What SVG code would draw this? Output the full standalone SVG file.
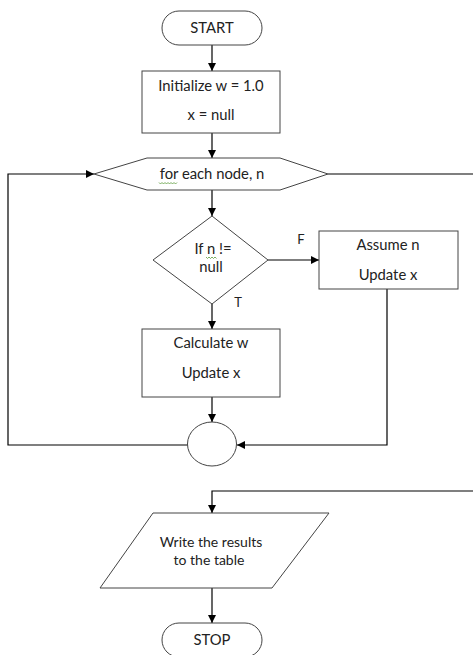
<svg xmlns="http://www.w3.org/2000/svg" width="473" height="655" viewBox="0 0 473 655">
  <defs>
    <marker id="arrow" markerWidth="8" markerHeight="8" refX="8" refY="4" orient="auto" markerUnits="userSpaceOnUse">
      <path d="M0,0 L8,4 L0,8 Z" fill="#000"/>
    </marker>
    <style>
      .shape { fill: #fff; stroke: #444; stroke-width: 1; }
      .conn { fill: none; stroke: #000; stroke-width: 1.2; marker-end: url(#arrow); }
      .line { fill: none; stroke: #000; stroke-width: 1.2; }
      .t { font-family: "Lato", "Open Sans", sans-serif; font-size: 14.8px; fill: #222; text-anchor: middle; }
      .lbl { font-family: "Lato", "Open Sans", sans-serif; font-size: 13px; fill: #222; text-anchor: middle; }
      .sm { font-family: "Lato", "Open Sans", sans-serif; font-size: 14px; fill: #222; text-anchor: middle; }
      .squig { fill: none; stroke: #5a9a3a; stroke-width: 0.8; }
    </style>
  </defs>
  <rect width="473" height="655" fill="#fff"/>

  <g id="connectors">
    <path class="conn" d="M212,45 V71"/>
    <path class="conn" d="M212,133 V158"/>
    <path class="conn" d="M212,190 V216"/>
    <path class="conn" d="M268,260 H319"/>
    <path class="conn" d="M212,304 V329"/>
    <path class="conn" d="M212,397 V422"/>
    <path class="conn" d="M387,289 V445 H237"/>
    <path class="conn" d="M188,445 H8 V174 H94"/>
    <path class="line" d="M328,174 H475"/>
    <path class="conn" d="M475,491 H212 V513"/>
    <path class="conn" d="M212,588 V623"/>
    <text class="lbl" x="301" y="244">F</text>
    <text class="lbl" x="238" y="307">T</text>
  </g>

  <g id="start">
    <rect class="shape" x="162" y="11" width="100" height="34" rx="17"/>
    <text class="t" x="212" y="33">START</text>
  </g>

  <g id="init">
    <rect class="shape" x="142" y="71" width="138" height="62"/>
    <text class="t" x="211" y="91">Initialize w = 1.0</text>
    <text class="t" x="211" y="120">x = null</text>
  </g>

  <g id="loop">
    <polygon class="shape" points="94,174 147,158 280,158 328,174 280,190 147,190"/>
    <text class="t" x="212" y="179">for each node, n</text>
    <path class="squig" d="M159,182.5 l1.5,1.5 l1.5,-1.5 l1.5,1.5 l1.5,-1.5 l1.5,1.5 l1.5,-1.5 l1.5,1.5 l1.5,-1.5 l1.5,1.5 l1.5,-1.5 l1.5,1.5 l1.5,-1.5"/>
  </g>

  <g id="decision">
    <polygon class="shape" points="212,216 268,260 212,304 153,260"/>
    <text class="t" x="213" y="254">If n != </text>
    <text class="t" x="211" y="272">null</text>
    <path class="squig" d="M206,257 l1.5,1.5 l1.5,-1.5 l1.5,1.5 l1.5,-1.5 l1.5,1.5 l1.5,-1.5 l1.5,1.5"/>
  </g>

  <g id="assume">
    <rect class="shape" x="319" y="231" width="139" height="58"/>
    <text class="t" x="388" y="250">Assume n</text>
    <text class="t" x="388" y="280">Update x</text>
  </g>

  <g id="calculate">
    <rect class="shape" x="142" y="329" width="138" height="68"/>
    <text class="t" x="211" y="348">Calculate w</text>
    <text class="t" x="211" y="378">Update x</text>
  </g>

  <g id="join">
    <ellipse class="shape" cx="212" cy="444" rx="24.5" ry="22"/>
  </g>

  <g id="write">
    <polygon class="shape" points="153,513 329,513 272,588 100,588"/>
    <text class="sm" x="211" y="547">Write the results</text>
    <text class="sm" x="209" y="565">to the table</text>
  </g>

  <g id="stop">
    <rect class="shape" x="162" y="623" width="100" height="34" rx="17"/>
    <text class="t" x="212" y="645">STOP</text>
  </g>
</svg>
